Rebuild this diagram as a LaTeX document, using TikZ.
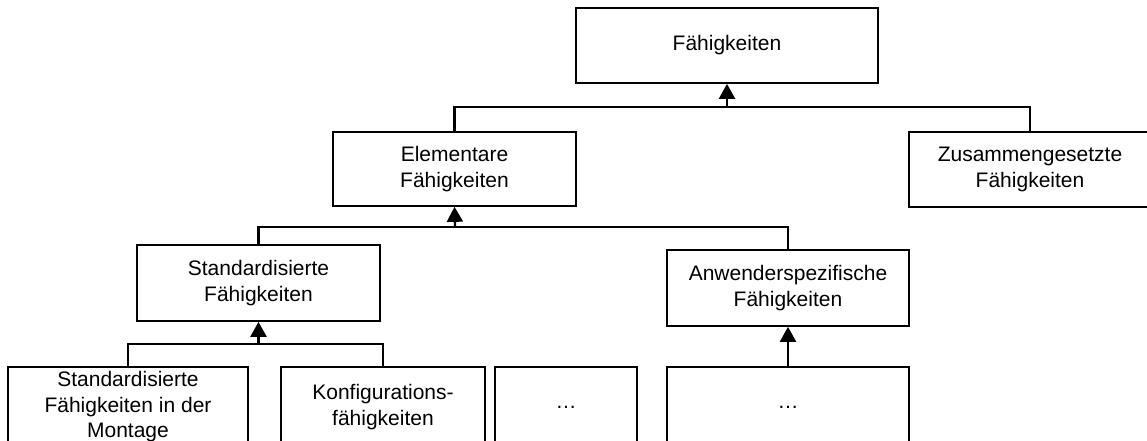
\documentclass[tikz,border=0pt]{standalone}
\usepackage{fontspec}
\setmainfont{Liberation Sans}
\usetikzlibrary{arrows.meta}
\begin{document}
\begin{tikzpicture}[x=1pt,y=-1pt,
  box/.style={draw=black, line width=1.7pt, fill=white, align=center,
    inner sep=0pt, font=\fontsize{21}{25.5}\selectfont},
  link/.style={line width=2.3pt},
  uparrow/.style={link, -{Triangle[width=16pt,length=15pt]}}]
\useasboundingbox (0,0) rectangle (1147,441);

% Hierarchy levels
\node[box, minimum width=302pt, minimum height=75pt] (top) at (727,45.5) {Fähigkeiten};
\node[box, minimum width=243pt, minimum height=74pt] (elem) at (454.5,169) {Elementare\\Fähigkeiten};
\node[box, minimum width=242pt, minimum height=75pt] (zus) at (1030,169.5) {Zusammengesetzte\\Fähigkeiten};
\node[box, minimum width=243pt, minimum height=76pt] (std) at (258.5,283) {Standardisierte\\Fähigkeiten};
\node[box, minimum width=242pt, minimum height=76pt] (anw) at (788,288) {Anwenderspezifische\\Fähigkeiten};
\node[box, minimum width=240pt, minimum height=80pt] (b1) at (128,407) {Standardisierte\\Fähigkeiten in der\\Montage};
\node[box, minimum width=204pt, minimum height=80pt] (b2) at (383,407) {Konfigurations-\\fähigkeiten};
\node[box, minimum width=142pt, minimum height=80pt] (b3) at (566,407) {\dots};
\node[box, minimum width=242pt, minimum height=80pt] (b4) at (788,407) {\dots};

% Junction points of the tree connectors
\coordinate (j1) at (727,107);
\coordinate (j2) at (455,227);
\coordinate (j3) at (258.5,344);

\draw[link] (elem.north) |- (j1);
\draw[link] (zus.north) |- (j1);
\draw[uparrow] (j1) -- (top.south);

\draw[link] (std.north) |- (j2);
\draw[link] (anw.north) |- (j2);
\draw[uparrow] (j2) -- (elem.south);

\draw[link] (b1.north) |- (j3);
\draw[link] (b2.north) |- (j3);
\draw[uparrow] (j3) -- (std.south);

\draw[uparrow] (b4.north) -- (anw.south);
\end{tikzpicture}
\end{document}
